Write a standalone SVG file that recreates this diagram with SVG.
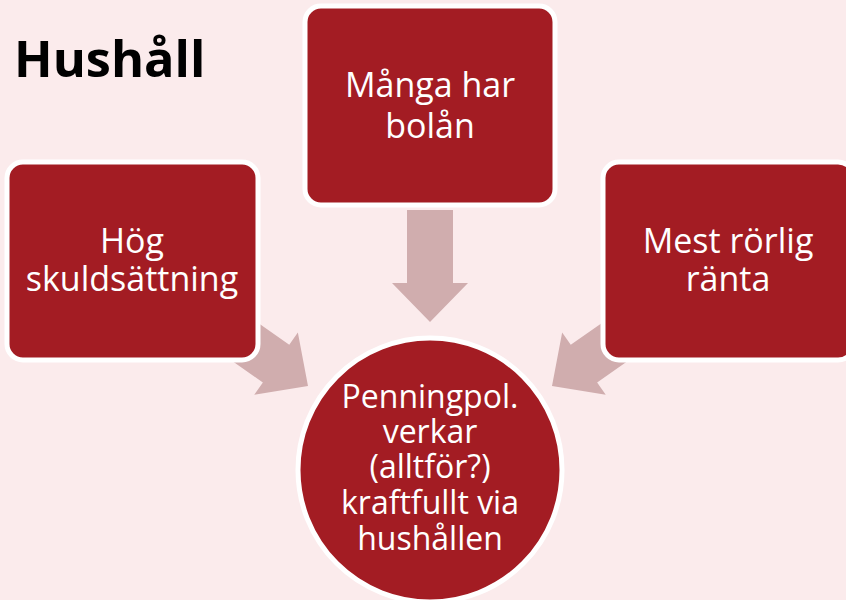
<svg xmlns="http://www.w3.org/2000/svg" width="846" height="600" viewBox="0 0 846 600">
<style>
.node{fill:#A31C23;stroke:#FFFFFF;stroke-width:5}
.arrow{fill:#D0ADAE}
.lbl{font-family:"Open Sans","Noto Sans",sans-serif;fill:#FFFFFF;text-anchor:middle}
.title{font-family:"Open Sans","Noto Sans",sans-serif;font-weight:bold;fill:#000000}
</style>
<defs>
<polygon id="arr" points="0,-23 73,-23 73,-38 112,0 73,38 73,23 0,23"/>
</defs>
<rect width="846" height="600" fill="#FBEBEC"/>
<text class="title" x="14" y="77" font-size="50.5">Hushåll</text>
<g id="connectors">
<use href="#arr" class="arrow" transform="translate(430,210) rotate(90)"/>
<use href="#arr" class="arrow" transform="translate(308,386) rotate(35) translate(-112,0)"/>
<use href="#arr" class="arrow" transform="translate(552,386) rotate(145) translate(-112,0)"/>
</g>
<g id="node-top">
<rect class="node" x="305" y="6" width="250" height="199" rx="16"/>
<text class="lbl" x="430" y="97" font-size="34">Många har</text>
<text class="lbl" x="430" y="138" font-size="34">bolån</text>
</g>
<g id="node-left">
<rect class="node" x="7" y="162" width="251" height="198" rx="16"/>
<text class="lbl" x="132" y="253" font-size="34">Hög</text>
<text class="lbl" x="132" y="291" font-size="34">skuldsättning</text>
</g>
<g id="node-right">
<rect class="node" x="603" y="162" width="251" height="198" rx="16"/>
<text class="lbl" x="728" y="253" font-size="34">Mest rörlig</text>
<text class="lbl" x="728" y="291" font-size="34">ränta</text>
</g>
<g id="node-center">
<circle class="node" cx="430" cy="470" r="132"/>
<text class="lbl" x="430" y="408" font-size="32">Penningpol.</text>
<text class="lbl" x="430" y="443" font-size="32">verkar</text>
<text class="lbl" x="430" y="478" font-size="32">(alltför?)</text>
<text class="lbl" x="430" y="514" font-size="32">kraftfullt via</text>
<text class="lbl" x="430" y="550" font-size="32">hushållen</text>
</g>
</svg>
